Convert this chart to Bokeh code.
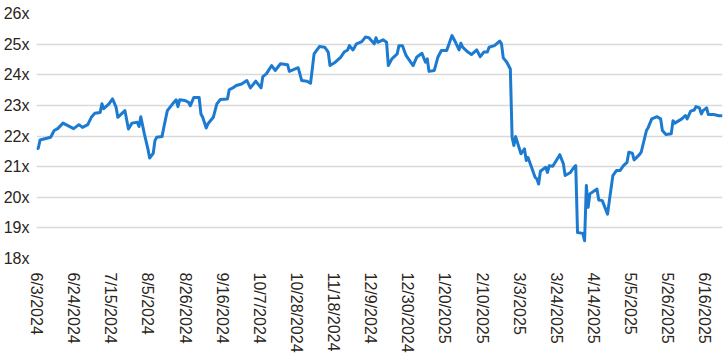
import pandas as pd
from bokeh.plotting import figure
from bokeh.models import Range1d, FixedTicker, ColumnDataSource
from bokeh.embed import file_html
from bokeh.resources import INLINE

dates = [
    "2024-06-03", "2024-06-04", "2024-06-05", "2024-06-11", "2024-06-13", "2024-06-15", "2024-06-18",
    "2024-06-24", "2024-06-27", "2024-06-29", "2024-07-02", "2024-07-04", "2024-07-06", "2024-07-09",
    "2024-07-10", "2024-07-11", "2024-07-14", "2024-07-16", "2024-07-18", "2024-07-19", "2024-07-23",
    "2024-07-25", "2024-07-27", "2024-07-30", "2024-07-31", "2024-08-01", "2024-08-03", "2024-08-05",
    "2024-08-06", "2024-08-08", "2024-08-09", "2024-08-10", "2024-08-13", "2024-08-14", "2024-08-16",
    "2024-08-19", "2024-08-21", "2024-08-22", "2024-08-23", "2024-08-26", "2024-08-28", "2024-08-29",
    "2024-08-31", "2024-09-03", "2024-09-04", "2024-09-05", "2024-09-07", "2024-09-08", "2024-09-11",
    "2024-09-13", "2024-09-15", "2024-09-19", "2024-09-20", "2024-09-22", "2024-09-24", "2024-09-27",
    "2024-09-30", "2024-10-02", "2024-10-05", "2024-10-08", "2024-10-09", "2024-10-11", "2024-10-14",
    "2024-10-16", "2024-10-19", "2024-10-23", "2024-10-24", "2024-10-29", "2024-10-31", "2024-11-03",
    "2024-11-05", "2024-11-07", "2024-11-10", "2024-11-13", "2024-11-15", "2024-11-16", "2024-11-19",
    "2024-11-22", "2024-11-24", "2024-11-26", "2024-11-27", "2024-11-29", "2024-12-01", "2024-12-04",
    "2024-12-06", "2024-12-08", "2024-12-11", "2024-12-12", "2024-12-13", "2024-12-16", "2024-12-18",
    "2024-12-19", "2024-12-21", "2024-12-24", "2024-12-25", "2024-12-27", "2024-12-29", "2025-01-02",
    "2025-01-04", "2025-01-07", "2025-01-09", "2025-01-10", "2025-01-11", "2025-01-14", "2025-01-16",
    "2025-01-18", "2025-01-21", "2025-01-24", "2025-01-26", "2025-01-28", "2025-01-29", "2025-01-30",
    "2025-02-02", "2025-02-04", "2025-02-07", "2025-02-09", "2025-02-11", "2025-02-13", "2025-02-14",
    "2025-02-17", "2025-02-20", "2025-02-21", "2025-02-22", "2025-02-24", "2025-02-26", "2025-02-27",
    "2025-02-28", "2025-03-01", "2025-03-02", "2025-03-04", "2025-03-06", "2025-03-07", "2025-03-08",
    "2025-03-10", "2025-03-12", "2025-03-13", "2025-03-14", "2025-03-15", "2025-03-18", "2025-03-19",
    "2025-03-20", "2025-03-22", "2025-03-26", "2025-03-28", "2025-03-29", "2025-04-01", "2025-04-03",
    "2025-04-04", "2025-04-05", "2025-04-08", "2025-04-09", "2025-04-10", "2025-04-11", "2025-04-12",
    "2025-04-16", "2025-04-17", "2025-04-19", "2025-04-22", "2025-04-23", "2025-04-25", "2025-04-27",
    "2025-04-29", "2025-05-01", "2025-05-03", "2025-05-04", "2025-05-06", "2025-05-07", "2025-05-10",
    "2025-05-11", "2025-05-14", "2025-05-15", "2025-05-17", "2025-05-20", "2025-05-22", "2025-05-23",
    "2025-05-25", "2025-05-28", "2025-05-29", "2025-05-30", "2025-06-03", "2025-06-05", "2025-06-06",
    "2025-06-08", "2025-06-10", "2025-06-11", "2025-06-13", "2025-06-14", "2025-06-15", "2025-06-17",
    "2025-06-18", "2025-06-21", "2025-06-24", "2025-06-26",
]

multiples = [
    21.58, 21.60, 21.87, 21.96, 22.18, 22.24, 22.42,
    22.24, 22.37, 22.28, 22.37, 22.61, 22.74, 22.77,
    23.05, 22.89, 23.05, 23.21, 22.94, 22.61, 22.83,
    22.23, 22.42, 22.45, 22.31, 22.63, 22.07, 21.58,
    21.28, 21.43, 21.85, 21.96, 21.98, 22.28, 22.83,
    23.05, 23.18, 22.96, 23.18, 23.16, 23.10, 22.99,
    23.26, 23.26, 22.72, 22.61, 22.26, 22.40, 22.61,
    23.05, 23.19, 23.21, 23.51, 23.57, 23.65, 23.70,
    23.81, 23.57, 23.79, 23.57, 23.94, 24.03, 24.30,
    24.14, 24.36, 24.33, 24.11, 24.23, 23.81, 23.79,
    23.72, 24.68, 24.92, 24.90, 24.74, 24.30, 24.41,
    24.57, 24.74, 24.81, 24.95, 24.81, 25.01, 25.08,
    25.23, 25.21, 25.01, 25.21, 25.06, 25.14, 25.06,
    24.30, 24.52, 24.68, 24.95, 24.95, 24.63, 24.30,
    24.57, 24.70, 24.41, 24.52, 24.11, 24.14, 24.57,
    24.79, 24.79, 25.28, 25.06, 24.81, 25.03, 24.90,
    24.74, 24.66, 24.81, 24.59, 24.74, 24.74, 24.90,
    24.95, 25.10, 25.01, 24.55, 24.41, 24.19, 21.96,
    21.69, 21.98, 21.79, 21.42, 21.58, 21.20, 21.30,
    20.98, 20.65, 20.60, 20.43, 20.85, 20.98, 20.81,
    21.03, 21.01, 21.39, 21.09, 20.71, 20.81, 20.98,
    21.03, 18.85, 18.82, 18.58, 20.38, 19.67, 20.11,
    20.27, 19.91, 19.89, 19.45, 19.89, 20.71, 20.87,
    20.87, 21.03, 21.14, 21.47, 21.44, 21.22, 21.39,
    21.47, 22.18, 22.28, 22.56, 22.63, 22.56, 22.18,
    22.05, 22.07, 22.50, 22.42, 22.56, 22.67, 22.56,
    22.81, 22.85, 22.96, 22.92, 22.72, 22.83, 22.92,
    22.70, 22.70, 22.66, 22.66,
]

x_tick_dates = [
    "2024-06-03", "2024-06-24", "2024-07-15", "2024-08-05", "2024-08-26", "2024-09-16",
    "2024-10-07", "2024-10-28", "2024-11-18", "2024-12-09", "2024-12-30", "2025-01-20",
    "2025-02-10", "2025-03-03", "2025-03-24", "2025-04-14", "2025-05-05", "2025-05-26",
    "2025-06-16",
]
x_tick_labels = [
    "6/3/2024", "6/24/2024", "7/15/2024", "8/5/2024", "8/26/2024", "9/16/2024",
    "10/7/2024", "10/28/2024", "11/18/2024", "12/9/2024", "12/30/2024", "1/20/2025",
    "2/10/2025", "3/3/2025", "3/24/2025", "4/14/2025", "5/5/2025", "5/26/2025",
    "6/16/2025",
]
y_ticks = [18, 19, 20, 21, 22, 23, 24, 25, 26]
y_tick_labels = ["18x", "19x", "20x", "21x", "22x", "23x", "24x", "25x", "26x"]


def to_ms(d):
    return float(pd.Timestamp(d).value // 10**6)


xs = [to_ms(d) for d in dates]
x_ticks = [to_ms(d) for d in x_tick_dates]

source = ColumnDataSource(data=dict(x=xs, y=multiples))

p = figure(
    width=726, height=358,
    x_axis_type="datetime",
    output_backend="svg", toolbar_location=None,
    x_range=Range1d(xs[0], xs[-1]),
    y_range=Range1d(18, 26),
    min_border_left=35, min_border_right=4, min_border_top=13, min_border_bottom=100,
)
p.outline_line_color = None
p.background_fill_color = "white"
p.border_fill_color = "white"

p.line("x", "y", source=source, line_color="#1c7bd0", line_width=3, line_join="round")

FONT = "Liberation Sans"
TXT = "#2a2520"

p.xaxis.ticker = FixedTicker(ticks=x_ticks)
p.xaxis.major_label_overrides = {t: lab for t, lab in zip(x_ticks, x_tick_labels)}
p.xaxis.major_label_orientation = "vertical"
p.xaxis.major_label_standoff = 8
p.yaxis.ticker = FixedTicker(ticks=y_ticks)
p.yaxis.major_label_overrides = {t: lab for t, lab in zip(y_ticks, y_tick_labels)}
p.yaxis.major_label_standoff = 1

for ax in (p.xaxis[0], p.yaxis[0]):
    ax.axis_line_color = None
    ax.major_tick_line_color = None
    ax.minor_tick_line_color = None
    ax.major_label_text_font = FONT
    ax.major_label_text_font_size = "16px"
    ax.major_label_text_color = TXT

p.xgrid.grid_line_color = None
p.ygrid.grid_line_color = "#d9d9d9"
p.ygrid.grid_line_width = 1.5

open("out.html", "w").write(file_html(p, INLINE))
